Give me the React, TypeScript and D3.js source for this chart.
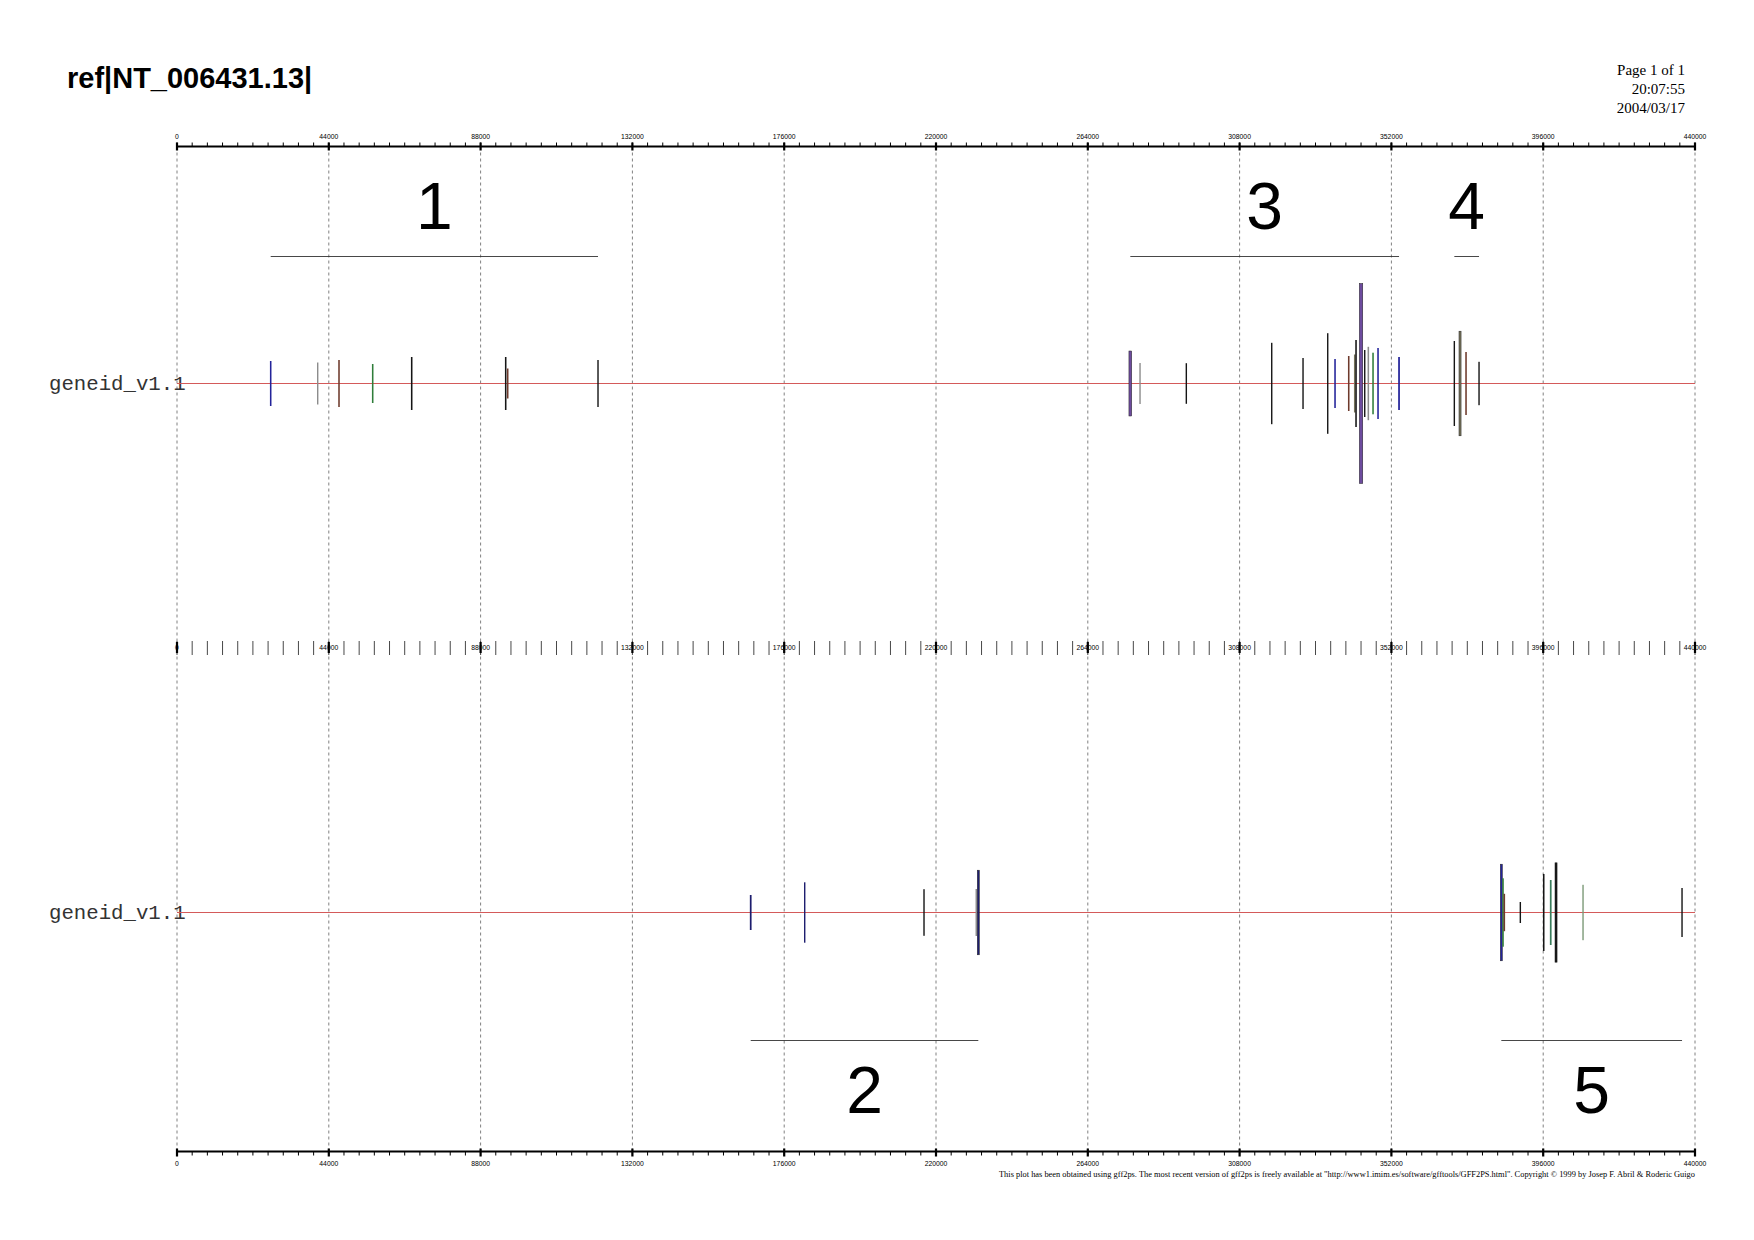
import { useEffect, useRef } from 'react';
import * as d3 from 'd3';

// gene features: start (bp), score, colour class, length (bp)
const track1Pos = [27160, 40784, 46957, 56725, 68030, 95277, 95857, 122031,
    276325, 279137, 292558, 317313, 326386, 333545, 335661, 339632, 341371, 341748,
    343197, 344270, 345313, 346676, 348125, 354212, 370241, 371893, 373632, 377401];
const track1Score = [2.25, 2.1, 2.35, 1.95, 2.65, 2.65, 1.5, 2.35,
    3.25, 2.05, 2.03, 4.07, 2.55, 5.03, 2.45, 2.75, 2.9, 4.35,
    10.0, 3.35, 3.67, 3.08, 3.55, 2.65, 4.25, 5.23, 3.15, 2.17];
const track1Kind = ['blue', 'gray', 'brown', 'green', 'black', 'black', 'brown', 'black',
    'purple', 'gray', 'black', 'black', 'black', 'black', 'blue', 'brown', 'olive', 'black',
    'purple', 'black', 'gray', 'green', 'blue', 'blue', 'black', 'olive', 'brown', 'black'];
const track1Len = [450, 400, 450, 450, 450, 450, 450, 400,
    800, 400, 400, 400, 400, 400, 450, 450, 450, 450,
    1000, 400, 450, 450, 450, 500, 400, 600, 450, 400];

const track2Pos = [166292, 181945, 216525, 231685, 232265, 383863, 384356, 384733,
    389371, 396154, 398183, 399719, 407545, 436241];
const track2Score = [1.75, 3.02, 2.33, 2.35, 4.23, 4.83, 3.42, 1.87,
    1.05, 3.85, 3.25, 4.97, 2.77, 2.45];
const track2Kind = ['navy', 'navy', 'black', 'gray', 'navy', 'blue', 'green', 'brown',
    'black', 'black', 'teal', 'black', 'sage', 'black'];
const track2Len = [500, 350, 400, 450, 600, 600, 450, 450,
    350, 450, 500, 600, 400, 400];

// gene groups
const groupNames1 = ['1', '3', '4'];
const groupStart1 = [27160, 276325, 370241];
const groupEnd1 = [122031, 354212, 377401];
const groupNames2 = ['2', '5'];
const groupStart2 = [166292, 383863];
const groupEnd2 = [232265, 436241];

const majorTicks = [0, 44000, 88000, 132000, 176000, 220000, 264000, 308000, 352000, 396000, 440000];
const minorStep = 4400;

const colors: Record<string, string> = {
    blue: '#23239a', navy: '#1d1d6e', purple: '#6d4b9e', green: '#2f7d3a', brown: '#6e3a2c',
    black: '#151515', gray: '#8c8c8c', olive: '#76725a', teal: '#3a7d5c', sage: '#7d9a78',
};

export default function App() {
    const svgRef = useRef<SVGSVGElement>(null);

    useEffect(() => {
        if (!svgRef.current) return;
        const svg = d3.select(svgRef.current);
        svg.selectAll('*').remove();

        const x = d3.scaleLinear().domain([0, 440000]).range([177, 1695]);
        const hScale = d3.scaleLinear().domain([0, 10]).range([0, 100]);
        const minorTicks = d3.range(0, 440000 + 1, minorStep);
        const topY = 146.5, midY = 648, botY = 1151.5;

        // title + page info
        svg.append('text').attr('x', 67).attr('y', 88)
            .attr('font-family', 'Liberation Sans, Arial, sans-serif').attr('font-weight', 'bold')
            .attr('font-size', 29).attr('fill', '#000').text('ref|NT_006431.13|');
        ['Page 1 of 1', '20:07:55', '2004/03/17'].forEach((t, i) => {
            svg.append('text').attr('x', 1685).attr('y', 75 + i * 19)
                .attr('text-anchor', 'end').attr('font-family', 'Liberation Serif, serif')
                .attr('font-size', 15).attr('fill', '#000').text(t);
        });

        // grid
        majorTicks.forEach(t => {
            svg.append('line').attr('x1', x(t)).attr('x2', x(t)).attr('y1', topY).attr('y2', botY)
                .attr('stroke', '#808080').attr('stroke-width', 1).attr('stroke-dasharray', '3,3');
        });

        const lblFont = 'Liberation Sans, Arial, sans-serif';

        // top axis
        svg.append('line').attr('x1', x(0)).attr('x2', x(440000)).attr('y1', topY).attr('y2', topY)
            .attr('stroke', '#000').attr('stroke-width', 2.2);
        minorTicks.forEach(t => {
            svg.append('line').attr('x1', x(t)).attr('x2', x(t)).attr('y1', topY - 4).attr('y2', topY)
                .attr('stroke', '#000').attr('stroke-width', 1);
        });
        majorTicks.forEach(t => {
            svg.append('line').attr('x1', x(t)).attr('x2', x(t)).attr('y1', topY - 4).attr('y2', topY + 4)
                .attr('stroke', '#000').attr('stroke-width', 2.2);
            svg.append('text').attr('x', x(t)).attr('y', 139).attr('text-anchor', 'middle')
                .attr('font-family', lblFont).attr('font-size', 6.8).attr('fill', '#000').text(t);
        });

        // middle axis (ticks only)
        minorTicks.forEach(t => {
            svg.append('line').attr('x1', x(t)).attr('x2', x(t)).attr('y1', midY - 7).attr('y2', midY + 7)
                .attr('stroke', '#333').attr('stroke-width', 0.9);
        });
        majorTicks.forEach(t => {
            svg.append('line').attr('x1', x(t)).attr('x2', x(t)).attr('y1', midY - 6).attr('y2', midY + 5)
                .attr('stroke', '#000').attr('stroke-width', 2.2);
            svg.append('text').attr('x', x(t)).attr('y', midY + 2).attr('text-anchor', 'middle')
                .attr('font-family', lblFont).attr('font-size', 6.8).attr('fill', '#000').text(t);
        });

        // bottom axis
        svg.append('line').attr('x1', x(0)).attr('x2', x(440000)).attr('y1', botY).attr('y2', botY)
            .attr('stroke', '#000').attr('stroke-width', 2.2);
        minorTicks.forEach(t => {
            svg.append('line').attr('x1', x(t)).attr('x2', x(t)).attr('y1', botY).attr('y2', botY + 4)
                .attr('stroke', '#000').attr('stroke-width', 1);
        });
        majorTicks.forEach(t => {
            svg.append('line').attr('x1', x(t)).attr('x2', x(t)).attr('y1', botY - 3).attr('y2', botY + 5)
                .attr('stroke', '#000').attr('stroke-width', 2.2);
            svg.append('text').attr('x', x(t)).attr('y', 1166).attr('text-anchor', 'middle')
                .attr('font-family', lblFont).attr('font-size', 6.8).attr('fill', '#000').text(t);
        });

        // tracks
        const drawTrack = (cy: number, pos: number[], score: number[], kind: string[], len: number[]) => {
            svg.append('text').attr('x', 49).attr('y', cy + 6)
                .attr('font-family', 'Liberation Mono, Courier New, monospace')
                .attr('font-size', 20.7).attr('fill', '#333').text('geneid_v1.1');
            svg.append('line').attr('x1', x(0)).attr('x2', x(440000)).attr('y1', cy).attr('y2', cy)
                .attr('stroke', '#d45a5a').attr('stroke-width', 1.2);
            const g = svg.append('g');
            pos.forEach((p, i) => {
                const w = Math.max(1.4, x(p + len[i]) - x(p));
                const h = hScale(score[i]);
                g.append('rect')
                    .attr('x', x(p) - w / 2).attr('y', cy - h)
                    .attr('width', w).attr('height', 2 * h)
                    .attr('fill', colors[kind[i]])
                    .attr('stroke', w > 2 ? '#222' : 'none').attr('stroke-width', 0.5);
            });
        };
        drawTrack(383.5, track1Pos, track1Score, track1Kind, track1Len);
        drawTrack(912.5, track2Pos, track2Score, track2Kind, track2Len);

        // group lines and labels
        const drawGroups = (names: string[], s: number[], e: number[], lineY: number, textY: number) => {
            names.forEach((n, i) => {
                svg.append('line').attr('x1', x(s[i])).attr('x2', x(e[i])).attr('y1', lineY).attr('y2', lineY)
                    .attr('stroke', '#333').attr('stroke-width', 0.9);
                svg.append('text').attr('x', (x(s[i]) + x(e[i])) / 2).attr('y', textY)
                    .attr('text-anchor', 'middle').attr('font-family', lblFont)
                    .attr('font-size', 66).attr('fill', '#000').text(n);
            });
        };
        drawGroups(groupNames1, groupStart1, groupEnd1, 256.5, 229);
        drawGroups(groupNames2, groupStart2, groupEnd2, 1040.5, 1113);

        // footer
        svg.append('text').attr('x', 1695).attr('y', 1177).attr('text-anchor', 'end')
            .attr('font-family', 'Liberation Serif, serif').attr('font-size', 8.5).attr('fill', '#000')
            .attr('textLength', 696).attr('lengthAdjust', 'spacingAndGlyphs')
            .text('This plot has been obtained using gff2ps. The most recent version of gff2ps is freely available at "http://www1.imim.es/software/gfftools/GFF2PS.html". Copyright \u00A9  1999 by Josep F. Abril & Roderic Guigo');
    }, []);

    return (
        <div style={{ position: 'absolute', left: 0, top: 0 }}>
            <svg ref={svgRef} width={1754} height={1240} style={{ display: 'block', background: '#fff' }} />
        </div>
    );
}
